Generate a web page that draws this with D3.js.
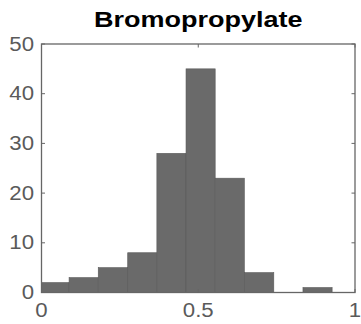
<!DOCTYPE html>
<html>
<head>
<meta charset="utf-8">
<script src="https://cdn.jsdelivr.net/npm/d3@7"></script>
<style>
  html, body { margin: 0; padding: 0; background: #fff; }
  svg { display: block; font-family: "Liberation Sans", Arial, sans-serif; }
</style>
</head>
<body>
<svg id="chart" width="361" height="324"></svg>
<script>
// histogram data
const TITLE = 'Bromopropylate';
const binEdges = [-0.005, 0.088, 0.181, 0.275, 0.368, 0.461, 0.554, 0.647, 0.741, 0.834, 0.927];
const counts   = [2, 3, 5, 8, 28, 45, 23, 4, 0, 1];
const xTicks = [0, 0.5, 1];
const yTicks = [0, 10, 20, 30, 40, 50];

const W = 361, H = 324;
const M = { top: 44, right: 6, bottom: 31.5, left: 41.5 };
const AXIS_GRAY = '#5a5a5a';
const TEXT_STRETCH = 1.14;   // reference text is a bit wider than plain Arial

const svg = d3.select('#chart');

const x = d3.scaleLinear().domain([0, 1]).range([M.left, W - M.right]);
const y = d3.scaleLinear().domain([0, 50]).range([H - M.bottom, M.top]);

const bins = counts.map((c, i) => ({ x0: binEdges[i], x1: binEdges[i + 1], n: c }));

svg.append('defs').append('clipPath').attr('id', 'plotClip')
  .append('rect')
    .attr('x', M.left).attr('y', M.top)
    .attr('width', x(1) - x(0)).attr('height', y(0) - y(50));

// bars
svg.append('g').attr('clip-path', 'url(#plotClip)')
  .selectAll('rect')
  .data(bins.filter(d => d.n > 0)).join('rect')
    .attr('x', d => x(d.x0))
    .attr('y', d => y(d.n))
    .attr('width', d => x(d.x1) - x(d.x0))
    .attr('height', d => y(0) - y(d.n))
    .attr('fill', '#6a6a6a')
    .attr('stroke', '#5a5a5a')
    .attr('stroke-width', 0.6);

// box
const axes = svg.append('g');
axes.append('rect')
  .attr('x', x(0)).attr('y', y(50))
  .attr('width', x(1) - x(0)).attr('height', y(0) - y(50))
  .attr('fill', 'none')
  .attr('stroke', '#666')
  .attr('stroke-width', 1.3);

// ticks (inside, both sides)
const TK = 3.5;
yTicks.forEach(v => {
  axes.append('line').attr('x1', x(0)).attr('x2', x(0) + TK).attr('y1', y(v)).attr('y2', y(v))
    .attr('stroke', '#666').attr('stroke-width', 1);
  axes.append('line').attr('x1', x(1)).attr('x2', x(1) - TK).attr('y1', y(v)).attr('y2', y(v))
    .attr('stroke', '#666').attr('stroke-width', 1);
});
xTicks.forEach(v => {
  axes.append('line').attr('x1', x(v)).attr('x2', x(v)).attr('y1', y(0)).attr('y2', y(0) - TK)
    .attr('stroke', '#666').attr('stroke-width', 1);
  axes.append('line').attr('x1', x(v)).attr('x2', x(v)).attr('y1', y(50)).attr('y2', y(50) + TK)
    .attr('stroke', '#666').attr('stroke-width', 1);
});

// tick labels
svg.append('g').selectAll('text')
  .data(yTicks).join('text')
    .attr('transform', d => `translate(${x(0) - 7.5},${y(d) + 6.5}) scale(${TEXT_STRETCH},1)`)
    .attr('text-anchor', 'end')
    .attr('font-size', 19.5)
    .attr('fill', AXIS_GRAY)
    .text(d => d);

svg.append('g').selectAll('text')
  .data(xTicks).join('text')
    .attr('transform', d => `translate(${x(d)},${y(0) + 24}) scale(${TEXT_STRETCH},1)`)
    .attr('text-anchor', 'middle')
    .attr('font-size', 19.5)
    .attr('fill', AXIS_GRAY)
    .text(d => d);

// title
svg.append('text')
  .attr('transform', `translate(${(x(0) + x(1)) / 2},27) scale(1.2,1)`)
  .attr('text-anchor', 'middle')
  .attr('font-size', 22.5)
  .attr('font-weight', 'bold')
  .attr('fill', '#000')
  .text(TITLE);
</script>
</body>
</html>
